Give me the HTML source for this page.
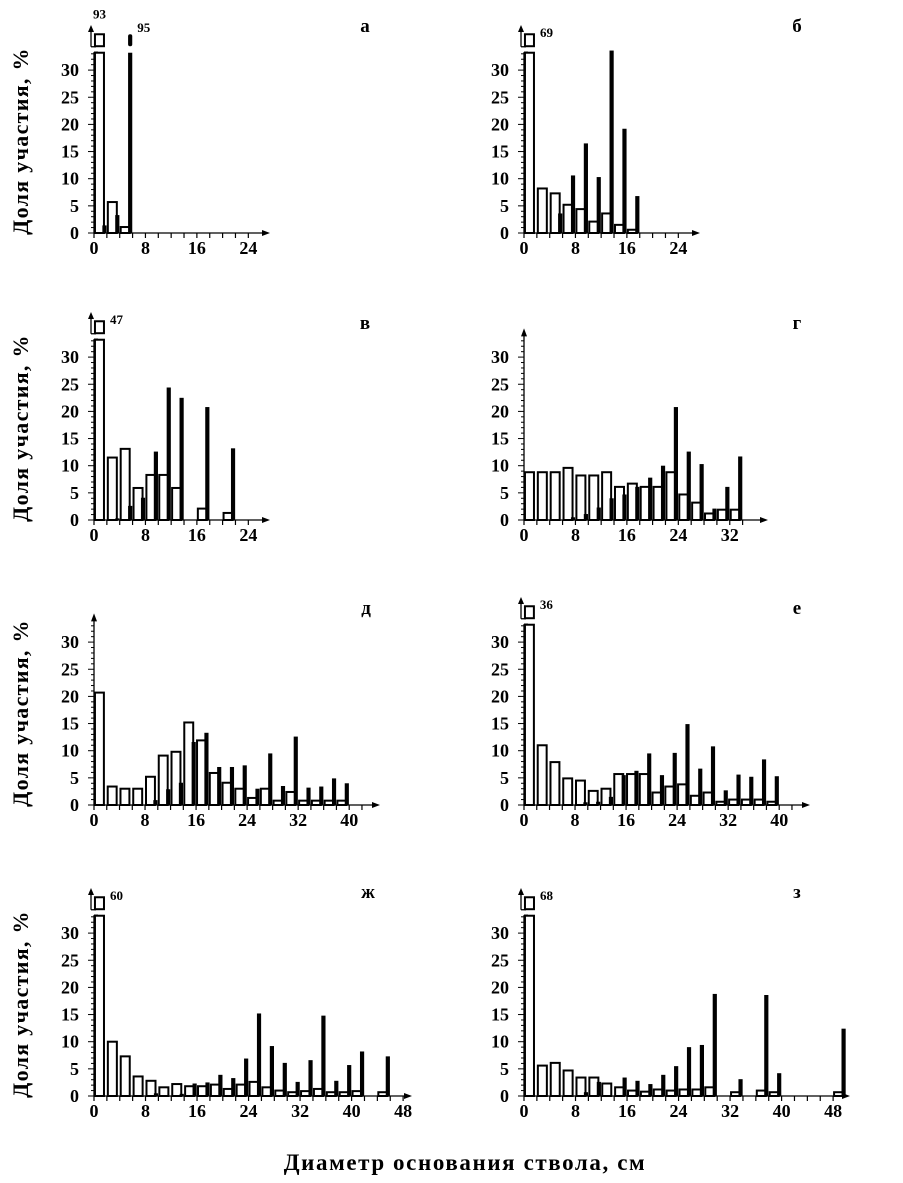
<!DOCTYPE html>
<html><head><meta charset="utf-8"><style>
html,body{margin:0;padding:0;background:#fff;}
svg{display:block;}
text{font-family:"Liberation Serif","DejaVu Serif",serif;font-weight:bold;fill:#000;}
</style></head><body>
<svg id="fig" width="903" height="1183" viewBox="0 0 903 1183" xmlns="http://www.w3.org/2000/svg">
<text x="465" y="1170" font-size="23" text-anchor="middle" letter-spacing="1.6">Диаметр основания ствола, см</text>
</svg>
<script>
// Data: open (white) and black bars per 2-cm bin, percent
const openA=[93,5.7,1.1];
const blackA=[1.4,3.3,95];
const openB=[69,8.2,7.3,5.2,4.4,2.1,3.6,1.5,0.6];
const blackB=[0,0,3.6,10.6,16.5,10.3,33.6,19.2,6.8];
const openV=[47,11.5,13.1,5.9,8.3,8.3,5.9,0,2.1,0,1.3];
const blackV=[0,0.3,2.6,4.1,12.6,24.4,22.5,0,20.8,0,13.2];
const openG=[8.8,8.8,8.8,9.6,8.2,8.2,8.8,6.1,6.7,6.1,6.1,8.8,4.7,3.2,1.2,1.9,1.9];
const blackG=[0,0,0,0.5,1.1,2.3,4.0,4.7,6.1,7.8,10.0,20.8,12.6,10.3,2.1,6.1,11.7];
const openD=[20.7,3.4,3.0,3.0,5.2,9.1,9.8,15.2,11.9,5.9,4.1,3.0,1.3,3.0,0.8,2.4,0.8,0.8,0.8,0.8];
const blackD=[0,0,0,0,0.9,2.9,4.1,11.6,13.3,7.0,7.0,7.3,3.0,9.5,3.5,12.6,3.2,3.4,4.9,4.0];
const openE=[36,11.0,7.9,4.9,4.5,2.6,3.0,5.7,5.7,5.7,2.3,3.4,3.8,1.7,2.3,0.6,1.0,1.0,1.0,0.6];
const blackE=[0,0,0,0,0.5,0.6,1.5,5.5,6.3,9.5,5.5,9.6,14.9,6.7,10.8,2.7,5.6,5.2,8.4,5.3];
const openZh=[60,10.0,7.3,3.6,2.8,1.6,2.2,1.8,1.8,2.1,1.3,2.1,2.6,1.6,1.0,0.7,0.9,1.3,0.7,0.7,0.9,0,0.7];
const blackZh=[0,0,0,0,0.5,0,0.4,2.3,2.5,3.9,3.3,6.9,15.2,9.2,6.1,2.6,6.6,14.8,2.8,5.7,8.2,0,7.3];
const openZ=[68,5.6,6.1,4.7,3.4,3.4,2.3,1.6,1.0,0.8,1.2,1.0,1.2,1.2,1.6,0,0.7,0,1.0,0.7,0,0,0,0,0.7];
const blackZ=[0,0,0,0,0.7,2.6,0,3.4,2.8,2.2,3.9,5.5,9.0,9.4,18.8,0,3.1,0,18.6,4.2,0,0,0,0,12.4];
const xTicksA=[0,8,16,24];
const xTicksG=[0,8,16,24,32];
const xTicksD=[0,8,16,24,32,40];
const xTicksZh=[0,8,16,24,32,40,48];
const yTicks=[0,5,10,15,20,25,30];

const panels=[
 {id:'a',letter:'а',ox:94,oy:233,kx:6.43,xend:270,ticks:xTicksA,nt:13,open:openA,black:blackA,broken:true,lx:365,ly:32,title:true},
 {id:'b',letter:'б',ox:524,oy:233,kx:6.43,xend:700,ticks:xTicksA,nt:13,open:openB,black:blackB,broken:true,lx:797,ly:32,title:false},
 {id:'v',letter:'в',ox:94,oy:520,kx:6.43,xend:270,ticks:xTicksA,nt:13,open:openV,black:blackV,broken:true,lx:365,ly:329,title:true},
 {id:'g',letter:'г',ox:524,oy:520,kx:6.43,xend:768,ticks:xTicksG,nt:18,open:openG,black:blackG,broken:false,lx:797,ly:329,title:false},
 {id:'d',letter:'д',ox:94,oy:805,kx:6.38,xend:380,ticks:xTicksD,nt:22,open:openD,black:blackD,broken:false,lx:366,ly:614,title:true},
 {id:'e',letter:'е',ox:524,oy:805,kx:6.38,xend:810,ticks:xTicksD,nt:22,open:openE,black:blackE,broken:true,lx:797,ly:614,title:false},
 {id:'zh',letter:'ж',ox:94,oy:1096,kx:6.44,xend:412,ticks:xTicksZh,nt:25,open:openZh,black:blackZh,broken:true,lx:368,ly:898,title:true},
 {id:'z',letter:'з',ox:524,oy:1096,kx:6.44,xend:850,ticks:xTicksZh,nt:25,open:openZ,black:blackZ,broken:true,lx:797,ly:898,title:false}
];
const NS='http://www.w3.org/2000/svg';
const svg=document.getElementById('fig');
function mk(tag,attrs,parent){const e=document.createElementNS(NS,tag);for(const k in attrs)e.setAttribute(k,attrs[k]);(parent||svg).appendChild(e);return e;}
const KY=5.43, CAP=33.2, BRK=34.5;
panels.forEach(p=>{
 const g=mk('g',{});
 
 
 const X=v=>p.ox+v*p.kx, Y=v=>p.oy-v*KY;
 if(p.title){
  const yt=mk('text',{x:0,y:0,'font-size':22,'letter-spacing':1.3,'text-anchor':'middle',transform:`translate(${p.ox-66},${p.oy-92}) rotate(-90)`},g);
  yt.textContent='Доля участия, %';
  
  
 }
 const lt=mk('text',{x:p.lx,y:p.ly,'font-size':19,'text-anchor':'middle'},g);
 lt.textContent=p.letter;
 
 
 p.open.forEach((v,i)=>{
  if(!v)return;
  const x0=X(2*i+0.15),x1=X(2*i+1.55);
  const br=v>BRK, h=br?CAP:v;
  const r=mk('rect',{x:x0,y:Y(h),width:x1-x0,height:h*KY,fill:'#fff',stroke:'#000','stroke-width':2},g);
  
  
  if(br){
   const b=mk('rect',{x:x0,y:Y(36.6),width:x1-x0,height:2.2*KY,fill:'#fff',stroke:'#000','stroke-width':2},g);
   
   
   const t=mk('text',{x:(p.id==='a')?x0-2:x1+6,y:(p.id==='a')?Y(39.5):Y(36.5)+2,'font-size':13},g);
   t.textContent=v;
   
   
  }
 });
 p.black.forEach((v,i)=>{
  if(!v)return;
  const x0=X(2*i+1.3),x1=X(2*i+1.95);
  const br=v>BRK, h=br?CAP:v;
  const r=mk('rect',{x:x0,y:Y(h),width:x1-x0,height:h*KY,fill:'#000'},g);
  
  
  if(br){
   const b=mk('rect',{x:x0,y:Y(36.6),width:x1-x0,height:2.2*KY,fill:'#000',rx:2},g);
   
   
   const t=mk('text',{x:x1+5,y:Y(37),'font-size':13},g);
   t.textContent=v;
   
   
  }
 });
 mk('line',{x1:p.ox,y1:p.oy,x2:p.xend-4,y2:p.oy,stroke:'#000','stroke-width':1.3},g);
 mk('path',{d:`M${p.xend},${p.oy} l-8,-3 v6 z`,fill:'#000'},g);
 if(p.broken){
  mk('line',{x1:p.ox,y1:p.oy,x2:p.ox,y2:Y(33.3),stroke:'#000','stroke-width':1.3},g);
  mk('line',{x1:p.ox,y1:Y(33.3),x2:p.ox+4,y2:Y(33.3),stroke:'#000','stroke-width':1.3},g);
  mk('line',{x1:p.ox-3,y1:Y(34.3),x2:p.ox-3,y2:Y(37.5),stroke:'#000','stroke-width':1.3},g);
  mk('line',{x1:p.ox-3,y1:Y(34.3),x2:p.ox+2,y2:Y(34.3),stroke:'#000','stroke-width':1.3},g);
  mk('path',{d:`M${p.ox-3},${Y(38.3)} l-3,7 h6 z`,fill:'#000'},g);
 } else {
  mk('line',{x1:p.ox,y1:p.oy,x2:p.ox,y2:Y(34.5),stroke:'#000','stroke-width':1.3},g);
  mk('path',{d:`M${p.ox},${Y(35.3)} l-3,8 h6 z`,fill:'#000'},g);
 }
 for(let u=0;u<=33;u++){
  const L=u%5===0?6:3;
  mk('line',{x1:p.ox-L,y1:Y(u),x2:p.ox,y2:Y(u),stroke:'#000','stroke-width':1},g);
 }
 yTicks.forEach(t=>{
  const tx=mk('text',{x:p.ox-15,y:Y(t)+6,'font-size':18,'text-anchor':'end'},g);
  tx.textContent=t;
  
  
 });
 for(let k=0;k<p.nt;k++){
  mk('line',{x1:X(2*k),y1:p.oy,x2:X(2*k),y2:p.oy+5,stroke:'#000','stroke-width':1.2},g);
 }
 p.ticks.forEach(t=>{
  const tx=mk('text',{x:X(t),y:p.oy+21,'font-size':18,'text-anchor':'middle'},g);
  tx.textContent=t;
  
  
 });
});
</script>
</body></html>
